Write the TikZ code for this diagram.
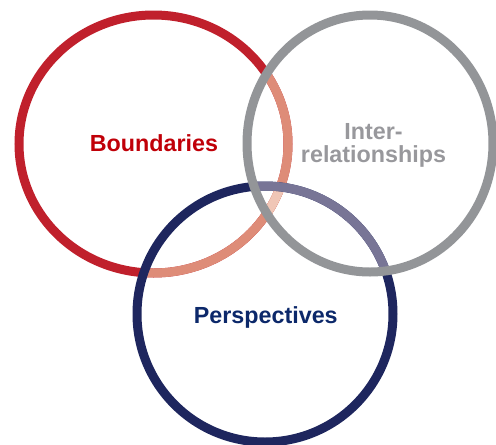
\documentclass[tikz,border=0pt]{standalone}
\usepackage{fontspec}
\setmainfont{Liberation Sans}
\usetikzlibrary{positioning}
\definecolor{bndred}{RGB}{192,32,44}
\definecolor{bndtext}{RGB}{192,0,8}
\definecolor{salmon}{RGB}{222,140,120}
\definecolor{palesalmon}{RGB}{240,198,182}
\definecolor{intgray}{RGB}{147,149,152}
\definecolor{inttext}{RGB}{152,152,156}
\definecolor{prsblue}{RGB}{30,38,94}
\definecolor{prstext}{RGB}{12,40,106}
\definecolor{lavender}{RGB}{120,117,150}
\tikzset{
	ring/.style={line width=9pt},
	ring label/.style={font=\fontsize{23.3}{23.3}\selectfont\bfseries, inner sep=0pt, align=center},
}
\newcommand{\bndring}{(153.5,144) ellipse [x radius=134.5pt, y radius=129pt]}
\newcommand{\intring}{(370,143.5) ellipse [x radius=123pt, y radius=128.5pt]}
\newcommand{\prsring}{(265,314) ellipse [x radius=128pt, y radius=128pt]}

\begin{document}
\begin{tikzpicture}[x=1pt, y=-1pt]
		\useasboundingbox (0,0) rectangle (496,445);
		% red ring, lighter where the other rings lie over it
		\draw[ring, bndred] \bndring;
		\begin{scope} \clip \intring; \draw[ring, salmon] \bndring; \end{scope}
		\begin{scope} \clip \prsring; \draw[ring, salmon] \bndring; \end{scope}
		\begin{scope} \clip \intring; \clip \prsring; \draw[ring, palesalmon] \bndring; \end{scope}
		% blue ring
		\draw[ring, prsblue] \prsring;
		\begin{scope} \clip \intring; \draw[ring, lavender] \prsring; \end{scope}
		% gray ring on top
		\draw[ring, intgray] \intring;
		\node[ring label, text=bndtext, anchor=base] (bnd) at (154,151.7) {Boundaries};
		\node[ring label, text=inttext, anchor=north] (int) at (373.5,123.3) {Inter-\\relationships};
		\node[ring label, text=prstext, anchor=base] (prs) at (265.8,323.3) {Perspectives};
\end{tikzpicture}
\end{document}
